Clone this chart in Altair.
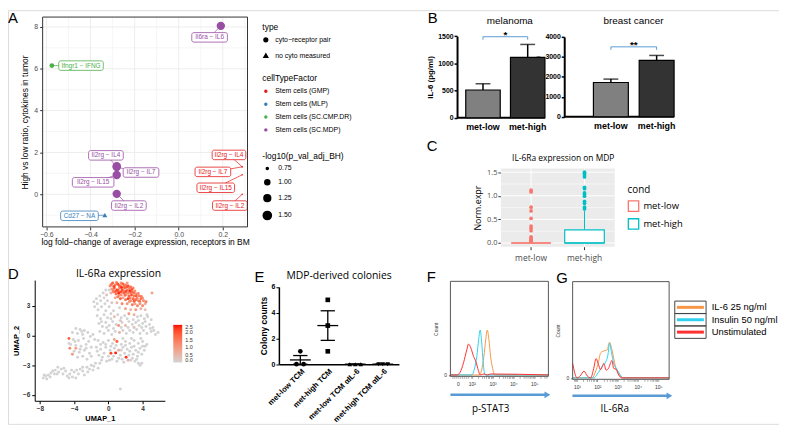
import altair as alt
import numpy as np
import pandas as pd

SANS = "Liberation Sans"
SOFT = "Open Sans"
W, H = 779, 418   # drawing area (page minus the 8px left/top margin)

# ======================= DATA =======================
# ---- Panel A : receptor / cytokine scatter
a_label = ["Il6ra − IL6", "Ifngr1 − IFNG", "Il2rg − IL4", "Il2rg − IL7", "Il2rg − IL15", "Il2rg − IL2",
           "Cd27 − NA", "Il2rg − IL4", "Il2rg − IL7", "Il2rg − IL15", "Il2rg − IL2"]
a_cell = ["Stem cells (SC.MDP)", "Stem cells (SC.CMP.DR)", "Stem cells (SC.MDP)", "Stem cells (SC.MDP)",
          "Stem cells (SC.MDP)", "Stem cells (SC.MDP)", "Stem cells (MLP)", "Stem cells (GMP)",
          "Stem cells (GMP)", "Stem cells (GMP)", "Stem cells (GMP)"]
a_type = ["cyto−receptor pair"] * 6 + ["no cyto measured"] + ["cyto−receptor pair"] * 4
a_lfc = [0.191, -0.575, -0.281, -0.281, -0.281, -0.281, -0.335, 0.288, 0.288, 0.288, 0.288]
a_ratio = [8.05, 6.15, 1.34, 1.30, 0.92, 0.02, -1.0, 1.31, 1.31, 0.93, 0.0]
a_logp = [1.55, 0.98, 1.55, 1.55, 1.55, 1.55, 1.0, 0.72, 0.72, 0.72, 0.72]
a_lab_x = [0.140, -0.443, -0.330, -0.171, -0.388, -0.226, -0.450, 0.228, 0.155, 0.168, 0.232]
a_lab_y = [7.50, 6.15, 1.86, 1.04, 0.57, -0.54, -1.03, 1.88, 1.07, 0.31, -0.54]
a_box_w = [36, 45, 35, 36, 42, 35, 38, 34, 36, 38, 35]
a_cells = ["Stem cells (GMP)", "Stem cells (MLP)", "Stem cells (SC.CMP.DR)", "Stem cells (SC.MDP)"]
a_cell_colors = ["#E41A1C", "#377EB8", "#4DAF4A", "#984EA3"]
a_types = ["cyto−receptor pair", "no cyto measured"]
a_x_ticks = [-0.6, -0.4, -0.2, 0.0, 0.2]
a_x_minor = [-0.5, -0.3, -0.1, 0.1, 0.3]
a_y_ticks = [0, 2, 4, 6, 8]
a_y_minor = [-1, 1, 3, 5, 7]
a_size_ticks = [0.75, 1.00, 1.25, 1.50]

# ---- Panel B : IL-6 ELISA
b_groups = ["met-low", "met-high"]
b_mel_mean = [510, 1110]
b_mel_top = [625, 1348]
b_bc_mean = [1715, 2825]
b_bc_top = [1885, 3070]
b_mel_ticks = [0, 500, 1000, 1500]
b_bc_ticks = [0, 1000, 2000, 3000, 4000]

# ---- Panel C : IL-6Ra on MDP (box plot summary)
c_groups = ["met-low", "met-high"]
c_q1 = [0.0, 0.0]
c_median = [0.0, 0.0]
c_q3 = [0.0, 0.28]
c_whisker = [0.0, 0.68]
c_out_low = [1.12, 1.08, 0.76, 0.68, 0.52, 0.36, 0.31, 0.26, 0.13, 0.10, 0.07, 0.05, 0.03]
c_out_high = [1.50, 1.47, 1.44, 1.40, 1.18, 1.15, 1.06, 1.03, 0.99, 0.88, 0.84, 0.76, 0.72]
c_colors = ["#F8766D", "#00BFC4"]
c_y_ticks = [0.0, 0.5, 1.0, 1.5]
c_y_minor = [0.25, 0.75, 1.25]

# ---- Panel D : UMAP (x, y, IL-6Ra expression)
d_top = [(0.2, 5.0, 1.2), (0.5, 5.3, 1.8), (0.8, 5.1, 1.5), (1.1, 5.2, 2.0), (1.4, 5.0, 1.7), (1.7, 5.2, 1.9),
         (2.0, 5.1, 1.4), (2.3, 5.0, 2.1), (2.6, 4.9, 1.6), (2.9, 4.8, 1.2), (0.4, 4.7, 1.0), (0.7, 4.8, 1.9),
         (1.0, 4.6, 2.2), (1.3, 4.8, 1.3), (1.6, 4.6, 2.0), (1.9, 4.8, 1.8), (2.2, 4.6, 1.5), (2.5, 4.5, 2.3),
         (2.8, 4.4, 1.7), (3.1, 4.5, 1.1), (0.3, 4.3, 0.6), (0.6, 4.4, 1.4), (0.9, 4.2, 1.6), (1.2, 4.3, 2.4),
         (1.5, 4.1, 1.2), (1.8, 4.3, 1.9), (2.1, 4.2, 1.0), (2.4, 4.0, 1.8), (2.7, 4.1, 2.0), (3.0, 4.0, 1.5),
         (3.3, 4.2, 1.3), (3.6, 4.0, 1.4), (0.8, 3.8, 0.8), (1.1, 3.9, 1.5), (1.4, 3.7, 1.9), (1.7, 3.8, 0.9),
         (2.0, 3.6, 1.6), (2.3, 3.7, 2.2), (2.6, 3.5, 1.3), (2.9, 3.7, 1.8), (3.2, 3.6, 1.7), (3.5, 3.5, 1.0),
         (3.8, 3.7, 1.6), (4.1, 3.5, 1.2), (1.0, 3.3, 0.5), (1.6, 3.2, 1.3), (2.2, 3.2, 1.1), (2.8, 3.1, 1.5),
         (3.1, 3.2, 0.9), (3.4, 3.0, 1.4), (3.7, 3.2, 1.1), (4.0, 3.0, 1.3), (4.3, 3.2, 0.7), (1.3, 2.8, 0.0),
         (2.0, 2.7, 0.9), (2.6, 2.6, 0.4), (3.2, 2.6, 1.0), (3.8, 2.7, 0.6), (4.3, 2.6, 0.3), (2.4, 2.2, 1.1),
         (3.0, 2.1, 0.6), (4.5, 2.1, 0.0), (5.1, 4.3, 0.8), (0.1, 4.6, 0.0), (1.5, 5.3, 1.1), (2.2, 5.3, 0.9),
         (0.35, 5.15, 1.6), (0.65, 4.95, 2.1), (0.95, 5.35, 1.3), (1.25, 5.05, 1.8), (1.55, 4.85, 2.3),
         (1.85, 5.0, 1.5), (2.15, 4.9, 1.9), (2.45, 4.75, 1.2), (2.75, 4.65, 2.0), (3.0, 4.3, 1.6),
         (0.55, 4.55, 1.3), (0.85, 4.45, 1.9), (1.15, 4.55, 1.7), (1.45, 4.4, 2.1), (1.75, 4.5, 1.4),
         (2.05, 4.45, 2.2), (2.35, 4.3, 1.3), (2.65, 4.35, 1.6), (3.25, 4.0, 1.9), (3.5, 4.25, 1.2),
         (3.85, 3.95, 1.5), (1.25, 4.05, 1.1), (1.95, 4.05, 1.7), (2.55, 3.8, 1.4), (3.0, 3.45, 1.9),
         (3.35, 3.75, 1.3), (3.65, 3.45, 1.6), (4.0, 3.75, 1.0), (4.4, 3.4, 1.4), (2.45, 3.4, 0.9)]
d_arm = [(-0.3, 4.6, 0), (-0.6, 4.3, 0), (-1.0, 4.0, 0), (-1.4, 3.7, 0), (-1.7, 3.4, 0), (-0.2, 4.1, 0.3),
         (-0.5, 3.8, 0), (-0.9, 3.5, 0), (-1.3, 3.2, 0), (-1.6, 2.9, 0), (-0.1, 3.5, 0), (-0.4, 3.2, 0),
         (-0.8, 2.9, 0), (-1.2, 2.6, 0), (0.1, 2.9, 0), (-0.3, 2.5, 0), (0.4, 3.3, 0.2), (0.6, 2.5, 0)]
d_mid = [(-1.3, 2.0, 0), (-0.9, 1.7, 0), (-0.5, 2.1, 0), (-0.1, 1.8, 0), (0.3, 2.2, 0), (0.7, 1.9, 0.4),
         (1.1, 2.1, 0), (1.5, 1.8, 0), (1.9, 2.0, 0), (3.4, 1.9, 0), (3.8, 2.0, 0), (4.2, 1.7, 0), (4.6, 1.9, 0),
         (5.0, 1.6, 0), (-1.1, 1.2, 0), (-0.7, 0.9, 0), (-0.3, 1.3, 0), (0.1, 1.0, 0), (0.5, 1.4, 0), (0.9, 1.1, 0),
         (1.2, 1.0, 1.1), (1.6, 1.3, 0), (2.0, 1.0, 0.5), (2.4, 1.4, 0), (2.8, 1.1, 0), (3.2, 1.3, 0), (3.6, 1.0, 0),
         (4.0, 1.2, 0), (4.4, 0.9, 0), (4.8, 1.1, 0), (5.2, 0.8, 0), (-1.0, 0.4, 0), (-0.5, 0.2, 0), (0.0, 0.5, 0),
         (0.4, 0.1, 0), (0.8, 0.4, 0), (1.3, 0.3, 0.6), (1.7, 0.5, 0), (2.1, 0.2, 0), (2.5, 0.5, 0), (2.9, 0.3, 0),
         (3.3, 0.6, 0), (3.7, 0.2, 0), (4.1, 0.5, 0), (4.5, 0.2, 0), (5.0, 0.4, 0), (5.5, 0.1, 0), (5.8, 0.3, 0),
         (-0.8, 1.4, 0), (0.3, 1.7, 0), (1.4, 1.5, 0.3), (2.2, 1.7, 0), (2.9, 1.6, 0), (3.5, 1.5, 0), (4.3, 1.4, 0),
         (4.9, 0.7, 0), (-0.2, 0.8, 0), (0.6, 0.7, 0), (1.5, 0.8, 0), (2.3, 0.8, 0), (3.0, 0.8, 0.4), (3.9, 0.8, 0),
         (5.3, 0.5, 0)]
d_lobe = [(-3.8, 0.7, 0), (-3.3, 0.6, 0), (-2.8, 0.5, 0), (-4.2, 0.3, 0), (-3.6, 0.2, 0), (-3.0, 0.1, 0),
          (-2.4, 0.3, 0), (-1.8, 0.1, 0), (-4.6, -0.3, 1.8), (-4.1, -0.4, 0), (-3.5, -0.5, 0), (-2.9, -0.3, 0),
          (-2.3, -0.6, 0), (-1.6, -0.4, 0), (-4.4, -0.9, 0), (-3.8, -1.0, 0), (-3.2, -1.1, 0), (-2.6, -0.9, 0),
          (-2.0, -1.2, 0), (-4.5, -1.3, 1.2), (-4.0, -1.6, 0), (-3.4, -1.7, 0), (-2.8, -1.5, 0), (-2.2, -1.8, 0),
          (-4.2, -1.9, 1.0), (-3.6, -2.2, 0), (-3.0, -2.1, 0), (-2.5, -2.4, 0), (-3.1, 0.4, 0), (-2.1, -0.1, 0),
          (-3.9, -0.6, 0), (-2.6, -1.3, 0), (-3.3, -1.4, 0), (-4.6, -0.8, 0), (-2.0, -2.1, 0), (-3.8, -1.3, 0.9)]
d_low = [(-1.2, -0.5, 0), (-0.6, -0.7, 0), (0.0, -0.5, 0), (0.5, -0.8, 0), (1.0, -0.6, 1.9), (1.5, -0.9, 0),
         (2.0, -0.6, 0), (2.5, -0.8, 0), (3.0, -0.5, 0), (3.5, -0.8, 0), (4.0, -0.6, 0), (4.5, -0.9, 0),
         (-1.4, -1.2, 0), (-0.9, -1.4, 0), (-0.3, -1.2, 0), (0.2, -1.5, 0), (0.7, -1.3, 0), (1.2, -1.5, 0.7),
         (1.7, -1.2, 0), (2.2, -1.4, 0), (2.7, -1.2, 0), (3.2, -1.5, 0), (3.7, -1.3, 0), (4.2, -1.5, 0),
         (-1.1, -2.0, 0), (-0.5, -1.8, 0), (0.0, -2.1, 0), (0.3, -1.8, 2.1), (0.85, -1.76, 2.4), (1.4, -2.0, 0),
         (1.9, -1.8, 0), (2.4, -2.0, 0), (2.9, -1.9, 0), (3.4, -2.1, 0), (3.9, -1.9, 0), (-0.8, -2.5, 0),
         (-0.2, -2.6, 0), (0.4, -2.4, 0), (1.0, -2.6, 0), (1.6, -2.4, 0), (2.07, -2.2, 2.3), (2.6, -2.5, 0),
         (3.1, -2.6, 0), (3.5, -2.8, 0), (3.7, -3.0, 0), (3.9, -2.8, 0), (1.4, -5.4, 0),
         (-0.9, -0.9, 0), (-0.3, -0.9, 0), (0.3, -1.1, 0), (0.9, -1.0, 0), (1.5, -1.5, 0), (2.0, -1.0, 0),
         (2.5, -1.6, 0), (3.0, -1.1, 0), (3.5, -1.7, 0), (4.0, -1.1, 0), (-1.3, -1.6, 0), (-0.7, -2.2, 0),
         (0.1, -2.5, 0), (0.6, -2.1, 0), (1.2, -2.3, 0), (1.8, -2.7, 0), (2.3, -2.5, 0.5), (2.8, -2.3, 0),
         (3.3, -2.4, 0), (-1.0, -2.8, 0), (0.7, -0.4, 0.8), (1.7, -0.3, 0), (2.7, -0.3, 0), (3.8, -0.3, 0),
         (4.3, -1.1, 0)]
d_tail = [(-1.5, -2.8, 0), (-2.0, -3.0, 0), (-2.5, -3.2, 0), (-1.2, -3.3, 0), (-1.8, -3.5, 0), (-2.4, -3.7, 0),
          (-3.0, -3.6, 0), (-3.5, -3.9, 0), (-2.8, -4.0, 0), (-3.3, -3.4, 0), (-4.0, -3.7, 0), (-4.5, -3.9, 0),
          (-5.0, -3.6, 0), (-5.5, -3.4, 0), (-5.9, -3.2, 0), (-4.8, -4.1, 0), (-5.3, -3.9, 0), (-5.8, -3.7, 0),
          (-6.2, -3.5, 0), (-6.3, -3.9, 0), (-6.7, -3.8, 0), (-7.0, -4.0, 0), (-7.3, -4.1, 0), (-7.6, -4.3, 0),
          (-6.8, -4.2, 0), (-7.2, -4.4, 0), (-4.2, -4.2, 0), (-3.8, -4.3, 0), (-1.7, -3.1, 0), (-2.2, -3.4, 0),
          (-3.0, -3.2, 0), (-3.7, -3.5, 0), (-4.3, -3.5, 0), (-5.2, -3.3, 0), (-6.0, -3.9, 0), (-6.5, -3.6, 0),
          (-7.5, -4.0, 0), (-4.6, -4.3, 0)]
d_x_ticks = [-8, -4, 0, 4]
d_y_ticks = [-6, -3, 0, 3]
d_legend_ticks = [0.0, 0.5, 1.0, 1.5, 2.0, 2.5]

# ---- Panel E : MDP-derived colonies
e_cats = ["met-low TCM", "met-high TCM", "met-low TCM αIL-6", "met-high TCM αIL-6"]
e_pt_cat = [0, 0, 0, 1, 1, 1, 2, 2, 2, 3, 3, 3]
e_pt_spread = [0.0, -0.14, 0.12, 0.0, 0.0, 0.0, -0.2, 0.0, 0.2, -0.15, 0.0, 0.18]
e_pt_val = [1, 0, 0, 5, 3, 1, 0, 0, 0, 0, 0, 0]
e_mean = [0.33, 3.0, 0.0, 0.0]
e_sem_lo = [0.0, 1.85, 0.0, 0.0]
e_sem_hi = [0.67, 4.15, 0.0, 0.0]
e_y_ticks = [0, 2, 4, 6]

# ---- Panels F / G : flow histograms (x in decades, height as fraction of frame)
f_red_u = [0.97, 1.29, 1.44, 1.6, 1.76, 1.84, 1.95, 2.08, 2.2, 2.31, 2.4, 2.6, 2.75, 2.9, 5.68]
f_red_h = [0, 0, 0.03, 0.13, 0.27, 0.33, 0.29, 0.20, 0.14, 0.05, 0, 0.01, 0, 0.01, 0]
f_cyan_u = [0.97, 2.0, 2.12, 2.24, 2.33, 2.4, 2.47, 2.55, 2.63, 5.68]
f_cyan_h = [0, 0, 0.06, 0.2, 0.38, 0.48, 0.36, 0.12, 0, 0]
f_orange_u = [0.97, 2.36, 2.47, 2.58, 2.67, 2.74, 2.82, 2.9, 3.0, 3.1, 5.68]
f_orange_h = [0, 0, 0.05, 0.2, 0.38, 0.48, 0.38, 0.2, 0.07, 0, 0]
g_red_u = [0.78, 1.0, 1.15, 1.34, 1.5, 1.67, 1.8, 1.94, 2.05, 2.16, 2.32, 2.43, 2.55, 2.72, 2.8, 2.92, 3.05, 3.21, 5.54]
g_red_h = [0.15, 0, 0.02, 0.07, 0.02, 0, 0.08, 0.2, 0.14, 0.085, 0.15, 0.08, 0.1, 0.18, 0.1, 0.09, 0.03, 0, 0]
g_cyan_u = [0.78, 1.83, 2.0, 2.12, 2.24, 2.4, 2.53, 2.6, 2.7, 2.8, 2.96, 3.13, 3.29, 5.54]
g_cyan_h = [0, 0, 0.04, 0.08, 0.12, 0.16, 0.25, 0.36, 0.26, 0.15, 0.09, 0.03, 0, 0]
g_orange_u = [0.78, 1.75, 1.9, 2.05, 2.16, 2.32, 2.48, 2.6, 2.72, 2.89, 3.05, 3.2, 5.54]
g_orange_h = [0, 0, 0.06, 0.16, 0.26, 0.28, 0.29, 0.37, 0.29, 0.12, 0.05, 0, 0]
fg_series = ["IL-6 25 ng/ml", "Insulin 50 ng/ml", "Unstimulated"]
fg_colors = ["#F79646", "#2FD0F0", "#FF3030"]
f_tick_pos = [1.33, 2, 3, 4, 5]
f_tick_lab = ["0", "10²", "10³", "10⁴", "10⁵"]
g_tick_pos = [1, 2, 3, 4, 5]
g_tick_lab = ["10¹", "10²", "10³", "10⁴", "10⁵"]

# ======================= PANEL FRAMES (pixel rectangles of each plot area) =======================
# (left, right, bottom, top) inside the drawing area
FR_A = (35, 242, 219, 7)
FR_B1 = (453.7, 541.7, 108.7, 26.3)
FR_B2 = (562, 672, 107.7, 27)
BARS_B1 = (462.5, 542.5)     # span covered by the two bars
BARS_B2 = (591.5, 673)
FR_C = (498, 613, 239, 160)
FR_D = (27, 158.5, 394.7, 272.7)
FR_E = (273.7, 395, 357.7, 279.7)
FR_F = (447, 546, 370, 274)
FR_G = (570.5, 668, 373, 274.3)
LEG_G = (689.5, 711, 300.3, 325.3)   # swatch centre x, label x, first / last row y


# ======================= HELPERS =======================
def qs(dom, rng):
    return alt.Scale(domain=dom, range=list(rng), nice=False, zero=False)


def xoff(fr):
    return fr[2] - H


def yoff(fr):
    return -fr[0]


def annot(text, x, y, size=15, font=SANS, align="left", weight="normal", color="black"):
    return alt.Chart(pd.DataFrame({"t": [text]})).mark_text(
        fontSize=size, font=font, align=align, baseline="middle", fontWeight=weight, color=color
    ).encode(x=alt.value(x), y=alt.value(y), text="t:N")


def label_expr(pos, lab):
    parts = " : ".join(f"abs(datum.value - {p}) < 0.01 ? '{l}'" for p, l in zip(pos, lab))
    return parts + " : ''"


def frame_rect(X, Y, xd, yd, stroke, fill="transparent", sw=1):
    df = pd.DataFrame({"x0": [xd[0]], "x1": [xd[1]], "y0": [yd[0]], "y1": [yd[1]]})
    return alt.Chart(df).mark_rect(fill=fill, stroke=stroke, strokeWidth=sw).encode(
        x=X("x0"), x2="x1:Q", y=Y("y0"), y2="y1:Q")


# ======================= PANEL A =======================
A_XD, A_YD = [-0.617, 0.312], [-1.56, 8.47]
kx = (FR_A[1] - FR_A[0]) / (A_XD[1] - A_XD[0])
ky = (FR_A[2] - FR_A[3]) / (A_YD[1] - A_YD[0])
dfA = pd.DataFrame(dict(label=a_label, cell=a_cell, type=a_type, x=a_lfc, y=a_ratio, p=a_logp,
                        lx=a_lab_x, ly=a_lab_y, w=a_box_w))
dfA["bx1"] = dfA.lx - dfA.w / 2 / kx
dfA["bx2"] = dfA.lx + dfA.w / 2 / kx
dfA["by1"] = dfA.ly - 4.8 / ky
dfA["by2"] = dfA.ly + 4.8 / ky
sxA = qs(A_XD, FR_A[0:2])
syA = qs(A_YD, FR_A[2:4])
axAx = alt.Axis(title="log fold−change of average expression, receptors in BM", values=a_x_ticks, format=".1f",
                orient="bottom", offset=xoff(FR_A), grid=False, domain=False, tickColor="#333333", tickSize=3,
                labelColor="#4D4D4D", labelFontSize=7, labelFont=SANS, titleFont=SANS, titleFontSize=8.5,
                titleFontWeight="normal", titleColor="black", labelPadding=1, titlePadding=0, labelFlush=False,
                minExtent=0)
axAy = alt.Axis(title="High vs low ratio, cytokines in tumor", values=a_y_ticks, format="d", orient="left",
                offset=yoff(FR_A), grid=False, domain=False, tickColor="#333333", tickSize=3,
                labelColor="#4D4D4D", labelFontSize=7, labelFont=SANS, titleFont=SANS, titleFontSize=8.5,
                titleFontWeight="normal", titleColor="black", labelPadding=2, titlePadding=4, labelFlush=False,
                minExtent=0)
XA = lambda f, ax=None: alt.X(f"{f}:Q", scale=sxA, axis=ax)
YA = lambda f, ax=None: alt.Y(f"{f}:Q", scale=syA, axis=ax)
cell_scale = alt.Scale(domain=a_cells, range=a_cell_colors)
leg_common = dict(orient="none", legendX=257, labelFontSize=7, titleFontSize=8.5, titleFontWeight="normal",
                  labelFont=SANS, titleFont=SANS, titlePadding=5, labelColor="black", titleColor="black",
                  labelOffset=6)

gridA_v = pd.DataFrame({"x": a_x_ticks + a_x_minor, "y0": A_YD[0], "y1": A_YD[1],
                        "w": [0.9] * len(a_x_ticks) + [0.45] * len(a_x_minor)})
gridA_h = pd.DataFrame({"y": a_y_ticks + a_y_minor, "x0": A_XD[0], "x1": A_XD[1],
                        "w": [0.9] * len(a_y_ticks) + [0.45] * len(a_y_minor)})
panelA = [
    alt.Chart(gridA_v).mark_rule(color="#EBEBEB").encode(
        x=XA("x", axAx), y=YA("y0", axAy), y2="y1:Q", strokeWidth=alt.StrokeWidth("w:Q", scale=None)),
    alt.Chart(gridA_h).mark_rule(color="#EBEBEB").encode(
        y=YA("y"), x=XA("x0"), x2="x1:Q", strokeWidth=alt.StrokeWidth("w:Q", scale=None)),
    alt.Chart(dfA).mark_rule(strokeWidth=0.7).encode(
        x=XA("x"), y=YA("y"), x2="lx:Q", y2="ly:Q",
        stroke=alt.Stroke("cell:N", scale=cell_scale, legend=None)),
    alt.Chart(dfA).mark_point(filled=True, opacity=1).encode(
        x=XA("x"), y=YA("y"),
        color=alt.Color("cell:N", scale=cell_scale, legend=alt.Legend(
            title="cellTypeFactor", legendY=65, symbolType="circle", symbolSize=12, rowPadding=5, **leg_common)),
        shape=alt.Shape("type:N", scale=alt.Scale(domain=a_types, range=["circle", "triangle-up"]),
                        legend=alt.Legend(title="type", legendY=13, symbolSize=14, symbolFillColor="black",
                                          symbolStrokeColor="black", rowPadding=5, **leg_common)),
        size=alt.Size("p:Q", scale=alt.Scale(domain=[0.72, 1.6], range=[2, 76]), legend=alt.Legend(
            title="-log10(p_val_adj_BH)", legendY=143, values=a_size_ticks, format=".2f", symbolFillColor="black",
            symbolStrokeColor="black", symbolType="circle", rowPadding=3, **leg_common))),
    alt.Chart(dfA).mark_rect(fill="white", cornerRadius=2, strokeWidth=0.8).encode(
        x=XA("bx1"), x2="bx2:Q", y=YA("by1"), y2="by2:Q",
        stroke=alt.Stroke("cell:N", scale=cell_scale, legend=None)),
    alt.Chart(dfA).mark_text(fontSize=6.5, font=SANS).encode(
        x=XA("lx"), y=YA("ly"), text="label:N",
        fill=alt.Fill("cell:N", scale=cell_scale, legend=None)),
    frame_rect(XA, YA, A_XD, A_YD, "#333333"),
]


# ======================= PANEL B =======================
def bar_panel(fr, bars_span, mean, top, ticks, ymax, bracket_y, stars, pin):
    h = fr[2] - fr[3]
    df = pd.DataFrame({"g": b_groups, "m": mean, "t": top})
    xs = alt.Scale(type="band", domain=b_groups, range=list(bars_span), paddingInner=pin, paddingOuter=0)
    axx = alt.Axis(title=None, orient="bottom", offset=xoff(fr), labelAngle=0, labelFont=SANS,
                   labelFontWeight="bold", labelFontSize=9, labelColor="black", ticks=False, domain=False,
                   labelPadding=5, minExtent=0)
    X = lambda ax=None: alt.X("g:N", scale=xs, sort=b_groups, axis=ax)
    ys = alt.Scale(domain=[0, ymax], range=[fr[2], fr[3]], nice=False, zero=True)
    axy = alt.Axis(title="IL-6 (pg/ml)", orient="left", offset=yoff(fr), values=ticks, format="d", grid=False,
                   domainColor="black", domainWidth=2, tickColor="black", tickWidth=1.5, tickSize=3, labelFont=SANS,
                   labelFontWeight="bold", labelFontSize=7, labelColor="black", labelPadding=1,
                   titleFont=SANS, titleFontSize=8, titleFontWeight="bold", titleColor="black", titlePadding=3,
                   minExtent=0, labelFlush=False)
    Y = lambda f, ax=None: alt.Y(f"{f}:Q", scale=ys, axis=ax)
    drop = 3 * ymax / h
    br = pd.DataFrame({"g": [b_groups[0], b_groups[0], b_groups[1], b_groups[1]],
                       "m": [bracket_y - drop, bracket_y, bracket_y, bracket_y - drop], "o": [0, 1, 2, 3]})
    step = (bars_span[1] - bars_span[0]) / (2 - pin)
    return [
        alt.Chart(pd.DataFrame({"m": [0]})).mark_rule(color="black", strokeWidth=2).encode(
            x=alt.value(fr[0]), x2=alt.value(fr[1] + 1), y=Y("m", axy)),
        alt.Chart(df).mark_bar(stroke="black", strokeWidth=1.2).encode(
            x=X(axx), y=Y("m"),
            fill=alt.Fill("g:N", scale=alt.Scale(domain=b_groups, range=["#808080", "#333333"]), legend=None)),
        alt.Chart(df).mark_rule(strokeWidth=1.5, color="black").encode(x=X(), y=Y("m"), y2="t:Q"),
        alt.Chart(df).mark_tick(thickness=1.5, size=15, color="black").encode(x=X(), y=Y("t")),
        alt.Chart(br).mark_line(color="#5B9BD5", strokeWidth=1).encode(x=X(), y=Y("m"), order="o:Q"),
        alt.Chart(pd.DataFrame({"g": [b_groups[0]], "m": [bracket_y], "s": [stars]})).mark_text(
            fontSize=10, font=SANS, fontWeight="bold", baseline="bottom", dx=step / 2, dy=3).encode(
            x=X(), y=Y("m"), text="s:N"),
    ]


panelB1 = bar_panel(FR_B1, BARS_B1, b_mel_mean, b_mel_top, b_mel_ticks, 1500, 1490, "*", 0.229)
panelB2 = bar_panel(FR_B2, BARS_B2, b_bc_mean, b_bc_top, b_bc_ticks, 4000, 3500, "**", 0.237)

# ======================= PANEL C =======================
C_YD = [-0.078, 1.578]
dfC = pd.DataFrame({"g": c_groups, "q1": c_q1, "med": c_median, "q3": c_q3, "wh": c_whisker,
                    "y0": C_YD[0], "y1": C_YD[1]})
dfCo = pd.DataFrame({"g": ["met-low"] * len(c_out_low) + ["met-high"] * len(c_out_high),
                     "q1": c_out_low + c_out_high})
xsC = alt.Scale(type="band", domain=c_groups, range=[FR_C[0], FR_C[1]], paddingInner=0, paddingOuter=0.065)
axCx = alt.Axis(title=None, orient="bottom", offset=xoff(FR_C), labelAngle=0, grid=False, domain=False,
                tickColor="#333333", tickSize=3, bandPosition=0.5, labelFont=SOFT, labelFontSize=8.5,
                labelColor="#4D4D4D", labelPadding=4, minExtent=0)
XC = lambda ax=None: alt.X("g:N", scale=xsC, sort=c_groups, axis=ax)
ysC = qs(C_YD, FR_C[2:4])
axCy = alt.Axis(title="Norm.expr", orient="left", offset=yoff(FR_C), values=c_y_ticks, format=".1f", grid=False,
                domain=False, tickColor="#333333", tickSize=3, labelFont=SOFT, labelFontSize=7.5,
                labelColor="#4D4D4D", labelPadding=1, titleFont=SOFT, titleFontSize=9, titleFontWeight="normal",
                titleColor="black", titlePadding=4, labelFlush=False, minExtent=0)
YC = lambda f, ax=None: alt.Y(f"{f}:Q", scale=ysC, axis=ax)
c_cscale = alt.Scale(domain=c_groups, range=c_colors)
panelC = [
    alt.Chart(pd.DataFrame({"y0": [C_YD[0]], "y1": [C_YD[1]]})).mark_rect(fill="#EBEBEB").encode(
        x=alt.value(FR_C[0]), x2=alt.value(FR_C[1]), y=YC("y0", axCy), y2="y1:Q"),
    alt.Chart(pd.DataFrame({"q1": c_y_ticks + c_y_minor,
                            "w": [1.0] * len(c_y_ticks) + [0.5] * len(c_y_minor)})).mark_rule(color="white").encode(
        y=YC("q1"), x=alt.value(FR_C[0]), x2=alt.value(FR_C[1]), strokeWidth=alt.StrokeWidth("w:Q", scale=None)),
    alt.Chart(dfC).mark_rule(color="white", strokeWidth=1).encode(x=XC(axCx), y=YC("y0"), y2="y1:Q"),
    alt.Chart(dfC).mark_rule(strokeWidth=1).encode(
        x=XC(), y=YC("q3"), y2="wh:Q", stroke=alt.Stroke("g:N", scale=c_cscale, legend=None)),
    alt.Chart(dfC).mark_bar(fill="white", size=40, strokeWidth=1.2).encode(
        x=XC(), y=YC("q1"), y2="q3:Q", stroke=alt.Stroke("g:N", scale=c_cscale, legend=alt.Legend(
            title="cond", orient="none", legendX=626, legendY=177, symbolType="square", symbolSize=110,
            symbolFillColor="white", symbolStrokeWidth=1.3, labelFont=SOFT, labelFontSize=9.5, titleFont=SOFT,
            titleFontSize=10, titleFontWeight="normal", labelColor="black", titleColor="black", rowPadding=2,
            titlePadding=5))),
    alt.Chart(dfC).mark_tick(size=40, thickness=1.8).encode(
        x=XC(), y=YC("med"), color=alt.Color("g:N", scale=c_cscale, legend=None)),
    alt.Chart(dfCo).mark_circle(size=14, opacity=1).encode(
        x=XC(), y=YC("q1"), color=alt.Color("g:N", scale=c_cscale, legend=None)),
]

# ======================= PANEL D =======================
d_all = d_top + d_arm + d_mid + d_lobe + d_low + d_tail
dfD = pd.DataFrame(d_all, columns=["u1", "u2", "e"]).sort_values("e")
axDx = alt.Axis(title="UMAP_1", orient="bottom", offset=xoff(FR_D), values=d_x_ticks, grid=False,
                domainColor="black", tickColor="black", tickSize=3, labelFont=SANS, labelFontSize=6.5,
                labelFontWeight="bold", labelColor="#333333", titleFont=SANS, titleFontSize=7.5,
                titleFontWeight="bold", titlePadding=2, labelPadding=2, labelFlush=False, minExtent=0)
axDy = alt.Axis(title="UMAP_2", orient="left", offset=yoff(FR_D), values=d_y_ticks, grid=False,
                domainColor="black", tickColor="black", tickSize=3, labelFont=SANS, labelFontSize=6.5,
                labelFontWeight="bold", labelColor="#333333", titleFont=SANS, titleFontSize=7.5,
                titleFontWeight="bold", titlePadding=2, labelPadding=2, labelFlush=False, minExtent=0)
panelD = [alt.Chart(dfD).mark_circle(size=9, opacity=1).encode(
    x=alt.X("u1:Q", scale=qs([-8.6, 6.6], FR_D[0:2]), axis=axDx),
    y=alt.Y("u2:Q", scale=qs([-6.6, 5.6], FR_D[2:4]), axis=axDy),
    color=alt.Color("e:Q", scale=alt.Scale(domain=[0, 2.5], range=["#D3D3D3", "#FF0000"]), legend=alt.Legend(
        title=None, orient="none", legendX=167, legendY=318, direction="vertical", gradientLength=38,
        gradientThickness=9, values=d_legend_ticks, format=".1f", labelFontSize=5.5, labelFont=SANS,
        labelColor="#333333", labelOverlap=False, gradientStrokeWidth=0, labelOffset=3)))]

# ======================= PANEL E =======================
dfE = pd.DataFrame({"c": e_pt_cat, "x": [c + s for c, s in zip(e_pt_cat, e_pt_spread)], "y": e_pt_val,
                    "n": [e_cats[c] for c in e_pt_cat]})
dfEm = pd.DataFrame({"x": list(range(4)), "m": e_mean, "lo": e_sem_lo, "hi": e_sem_hi})
dfEm["a1"] = dfEm.x - 0.38
dfEm["a2"] = dfEm.x + 0.38
dfEm["c1"] = dfEm.x - 0.26
dfEm["c2"] = dfEm.x + 0.26
e_lab_expr = "[" + ",".join(f"'{c}'" for c in e_cats) + "][datum.value]"
sxE = qs([-0.78, 3.59], FR_E[0:2])
syE = qs([0, 6], FR_E[2:4])
axEx = alt.Axis(title=None, orient="bottom", offset=xoff(FR_E), values=[0, 1, 2, 3], labelExpr=e_lab_expr,
                labelAngle=-45, labelAlign="right", labelBaseline="top", ticks=False, grid=False,
                domainColor="black", domainWidth=1.5, labelFont=SANS, labelFontSize=7.8, labelFontWeight="bold",
                labelColor="black", labelPadding=3, labelOverlap=False, labelBound=False, labelFlush=False,
                minExtent=0)
axEy = alt.Axis(title="Colony counts", orient="left", offset=yoff(FR_E), values=e_y_ticks, format="d", grid=False,
                domainColor="black", domainWidth=1.5, tickColor="black", tickSize=3, tickWidth=1, labelFont=SANS,
                labelFontSize=7, labelFontWeight="bold", labelColor="black", labelPadding=1, titleFont=SANS,
                titleFontSize=8.5, titleFontWeight="bold", titleColor="black", titlePadding=3, labelFlush=False,
                minExtent=0)
XE = lambda f, ax=None: alt.X(f"{f}:Q", scale=sxE, axis=ax)
YE = lambda f, ax=None: alt.Y(f"{f}:Q", scale=syE, axis=ax)
panelE = [
    alt.Chart(dfE).mark_point(filled=True, size=22, color="black", opacity=1).encode(
        x=XE("x", axEx), y=YE("y", axEy),
        shape=alt.Shape("n:N", scale=alt.Scale(domain=e_cats,
                                               range=["circle", "square", "triangle-up", "triangle-down"]),
                        legend=None)),
    alt.Chart(dfEm).mark_rule(color="black", strokeWidth=1.3).encode(x=XE("a1"), x2="a2:Q", y=YE("m")),
    alt.Chart(dfEm).mark_rule(color="black", strokeWidth=1.3).encode(x=XE("x"), y=YE("lo"), y2="hi:Q"),
    alt.Chart(dfEm).mark_rule(color="black", strokeWidth=1.3).encode(x=XE("c1"), x2="c2:Q", y=YE("lo")),
    alt.Chart(dfEm).mark_rule(color="black", strokeWidth=1.3).encode(x=XE("c1"), x2="c2:Q", y=YE("hi")),
]


# ======================= PANELS F / G =======================
def flow_panel(fr, series, dom, tick_pos, tick_lab, minor):
    rows = []
    for name, (us, hs) in zip(fg_series, series):
        for i, (u, hh) in enumerate(zip(us, hs)):
            rows.append({"s": name, "u": u, "h": hh, "i": i})
    df = pd.DataFrame(rows)
    vals = sorted(tick_pos + minor)
    axx = alt.Axis(title=None, orient="bottom", offset=xoff(fr), values=vals,
                   labelExpr=label_expr(tick_pos, tick_lab), grid=False, domain=False, tickColor="#555555",
                   tickSize=2, tickWidth=0.5, labelFont=SANS, labelFontSize=5, labelColor="#333333",
                   labelPadding=3, labelFlush=False, labelOverlap=False, minExtent=0)
    axy = alt.Axis(title="Count", orient="left", offset=yoff(fr), values=[0], format="d", grid=False,
                   domain=False, tickColor="#555555", tickSize=2, labelFont=SANS, labelFontSize=5,
                   labelColor="#333333", labelPadding=2, titleFont=SANS, titleFontSize=5, titleFontWeight="normal",
                   titleColor="#333333", titlePadding=5, minExtent=0)
    yd = [-0.015, 1]
    X = lambda f, ax=None: alt.X(f"{f}:Q", scale=qs(dom, fr[0:2]), axis=ax)
    Y = lambda f, ax=None: alt.Y(f"{f}:Q", scale=qs(yd, fr[2:4]), axis=ax)
    col = alt.Color("s:N", scale=alt.Scale(domain=fg_series, range=fg_colors), legend=None)
    return [
        alt.Chart(df).mark_line(strokeWidth=1, interpolate="monotone").encode(
            x=X("u", axx), y=Y("h", axy), color=col, order="i:Q"),
        frame_rect(X, Y, dom, yd, "#555555"),
    ]


f_minor = [round(d + np.log10(k), 3) for d in (2, 3, 4) for k in range(2, 10)] + \
          [1.05, 1.15, 1.25, 1.45, 1.55, 1.65, 1.75, 1.85, 1.95] + [round(5 + np.log10(k), 3) for k in range(2, 5)]
g_minor = [round(d + np.log10(k), 3) for d in (0, 1, 2, 3, 4) for k in range(2, 10) if 0.78 < d + np.log10(k) < 5.54]
panelF = flow_panel(FR_F, [(f_orange_u, f_orange_h), (f_cyan_u, f_cyan_h), (f_red_u, f_red_h)],
                    [0.97, 5.68], f_tick_pos, f_tick_lab, f_minor)
panelG = flow_panel(FR_G, [(g_orange_u, g_orange_h), (g_cyan_u, g_cyan_h), (g_red_u, g_red_h)],
                    [0.78, 5.54], g_tick_pos, g_tick_lab, g_minor)

# legend of F/G: boxed line swatches, one row per series
dfLeg = pd.DataFrame({"s": fg_series})
LY = alt.Y("s:N", sort=fg_series, axis=None,
           scale=alt.Scale(type="point", domain=fg_series, range=[LEG_G[2], LEG_G[3]], padding=0))
legendG = [
    alt.Chart(dfLeg).mark_point(shape="M-1,-0.4H1V0.4H-1Z", size=1000, filled=False, color="#444444",
                                strokeWidth=1, opacity=1).encode(x=alt.value(LEG_G[0]), y=LY),
    alt.Chart(dfLeg).mark_point(shape="M-0.86,0H0.86", size=1000, filled=False, strokeWidth=3, opacity=1).encode(
        x=alt.value(LEG_G[0]), y=LY,
        color=alt.Color("s:N", scale=alt.Scale(domain=fg_series, range=fg_colors), legend=None)),
    alt.Chart(dfLeg).mark_text(align="left", baseline="middle", fontSize=9.5, font=SANS, color="black").encode(
        x=alt.value(LEG_G[1]), y=LY, text="s:N"),
]


# ======================= ANNOTATIONS (panel letters, titles, arrows) =======================
def arrow(x0, x1, y):
    line = alt.Chart(pd.DataFrame({"k": [0]})).mark_rule(color="#5B9BD5", strokeWidth=2.5).encode(
        x=alt.value(x0), x2=alt.value(x1 - 4), y=alt.value(y))
    head = alt.Chart(pd.DataFrame({"k": [0]})).mark_point(
        shape="triangle-right", filled=True, color="#5B9BD5", size=45, opacity=1).encode(
        x=alt.value(x1 - 3), y=alt.value(y))
    return [line, head]


annots = [
    annot("A", 0, 8), annot("B", 424, 8), annot("C", 423, 137), annot("D", 0, 267),
    annot("E", 249, 269.5), annot("F", 423, 270), annot("G", 554, 271),
    annot("melanoma", 507, 10.5, 10, SANS, "center"),
    annot("breast cancer", 632, 11, 10, SANS, "center"),
    annot("IL-6Ra expression on MDP", 561, 149.5, 8.5, SOFT, "center"),
    annot("IL-6Ra expression", 111.7, 267, 10.5, SOFT, "center"),
    annot("MDP-derived colonies", 334.5, 268.7, 10.5, SOFT, "center"),
    annot("p-STAT3", 468.7, 403.5, 10, SOFT, "left"),
    annot("IL-6Ra", 598.7, 403.5, 10, SOFT, "left"),
] + arrow(447, 548, 388.7) + arrow(570.3, 671.3, 389.7)

# ======================= ASSEMBLY =======================
RES = dict(x="independent", y="independent", color="independent", fill="independent", stroke="independent",
           shape="independent", size="independent", strokeWidth="independent")
layers = panelA + panelB1 + panelB2 + panelC + panelD + panelE + panelF + panelG + legendG + annots
chart = alt.layer(*layers).resolve_scale(**RES).resolve_axis(x="independent", y="independent").resolve_legend(
    color="independent", fill="independent", stroke="independent", shape="independent", size="independent",
    strokeWidth="independent").properties(
    width=W, height=H, padding=0, autosize=alt.AutoSizeParams(type="none")).configure_view(
    stroke="transparent").configure(font=SANS)

chart.save("out.html", embed_options={"renderer": "svg", "actions": False})
